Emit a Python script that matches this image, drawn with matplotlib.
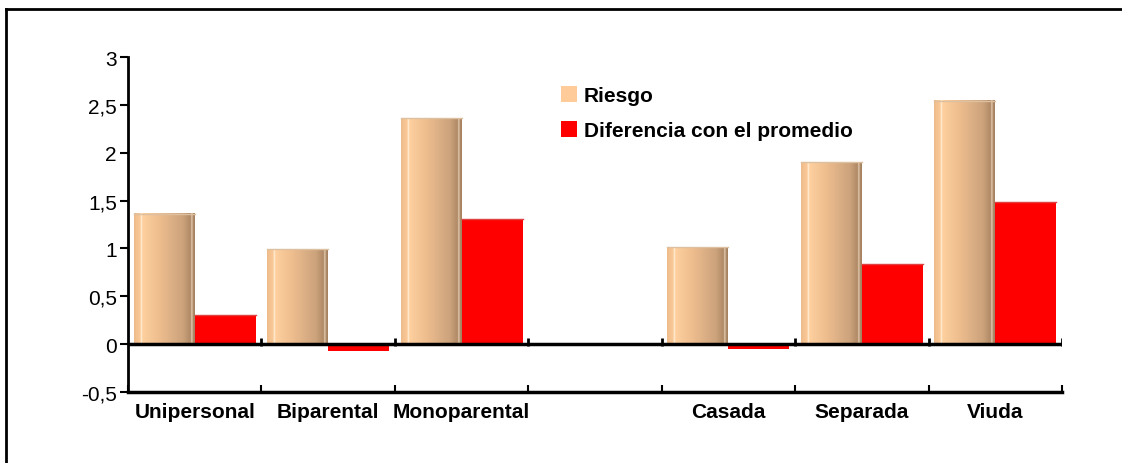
import numpy as np
import matplotlib.pyplot as plt
from matplotlib.colors import LinearSegmentedColormap
from matplotlib.patches import Patch
from matplotlib.lines import Line2D

categorias = ['Unipersonal', 'Biparental', 'Monoparental', '', 'Casada', 'Separada', 'Viuda']
riesgo = [1.36, 0.99, 2.36, np.nan, 1.01, 1.90, 2.54]
diferencia = [0.30, -0.07, 1.31, np.nan, -0.05, 0.84, 1.48]
yticks = [-0.5, 0, 0.5, 1, 1.5, 2, 2.5, 3]
ylabels = ['-0,5', '0', '0,5', '1', '1,5', '2', '2,5', '3']

plt.rcParams['font.family'] = ['Liberation Sans', 'DejaVu Sans']

fig = plt.figure(figsize=(11.22, 4.64), dpi=100)
ax = fig.add_axes([128 / 1122, 71 / 464, 934 / 1122, 335 / 464])

# cylinder shading for the "Riesgo" bars
cil = LinearSegmentedColormap.from_list('cil', [
    (0.0, '#eebb8a'), (0.10, '#fbc997'), (0.12, '#fff0dc'), (0.14, '#ffd09e'),
    (0.45, '#ebbb8d'), (0.80, '#cca37c'), (0.93, '#b08a66'),
    (0.95, '#e8d2b8'), (0.97, '#b08a66'), (1.0, '#a38060')])
grad = np.linspace(0, 1, 256).reshape(1, -1)

x = np.arange(len(categorias))
w = 0.457
b1 = ax.bar(x - w / 2, riesgo, w, color='none', edgecolor='none')
b2 = ax.bar(x + w / 2, diferencia, w, color='#ff0000', edgecolor='none', zorder=2)
for r in b1:
    h = r.get_height()
    if np.isnan(h):
        continue
    x0 = r.get_x()
    ax.imshow(grad, cmap=cil, aspect='auto', zorder=2,
              extent=(x0, x0 + r.get_width(), 0, h))
    ax.plot([x0, x0 + r.get_width()], [h, h], color='#dcc0a0', lw=1, zorder=3)
for r in b2:
    h = r.get_height()
    if np.isnan(h) or h < 0:
        continue
    ax.plot([r.get_x(), r.get_x() + r.get_width()], [h, h], color='#e04040', lw=1, zorder=3)

ax.set_xlim(-0.5, len(categorias) - 0.5)
ax.set_ylim(-0.5, 3)

# zero line with its own small ticks
ax.axhline(0, color='black', lw=2.5, zorder=4)
bordes = np.arange(len(categorias) + 1) - 0.5
ax.vlines(bordes[1:], -0.02, 0.06, color='black', lw=2, zorder=4)

ax.spines['top'].set_visible(False)
ax.spines['right'].set_visible(False)
ax.spines['left'].set_linewidth(2)
ax.spines['bottom'].set_linewidth(2.5)

ax.set_yticks(yticks)
ax.set_yticklabels(ylabels, fontsize=15)
ax.tick_params(axis='y', direction='out', length=6, width=1.5, pad=2)
ax.set_xticks(bordes)
ax.set_xticklabels([])
ax.tick_params(axis='x', direction='in', length=5, width=1.5)
for xi, c in zip(x, categorias):
    ax.text(xi, -0.70, c, ha='center', va='center', fontsize=15, fontweight='bold')

handles = [Patch(facecolor='#ffcc99', edgecolor='none'),
           Patch(facecolor='#ff0000', edgecolor='none')]
fig.legend(handles, ['Riesgo', 'Diferencia con el promedio'],
           loc='upper left', bbox_to_anchor=(542 / 1122, 1 - 68 / 464),
           frameon=False, prop={'weight': 'bold', 'size': 15},
           handlelength=0.8, handleheight=0.8, handletextpad=0.3, labelspacing=0.78)

# outer frame (left and top edges)
fig.add_artist(Line2D([6 / 1122, 6 / 1122], [0, 1 - 10 / 464], color='black', lw=2,
                      transform=fig.transFigure))
fig.add_artist(Line2D([6 / 1122, 1.0], [1 - 10 / 464, 1 - 10 / 464], color='black', lw=2,
                      transform=fig.transFigure))

fig.savefig('out.png', dpi=100)
